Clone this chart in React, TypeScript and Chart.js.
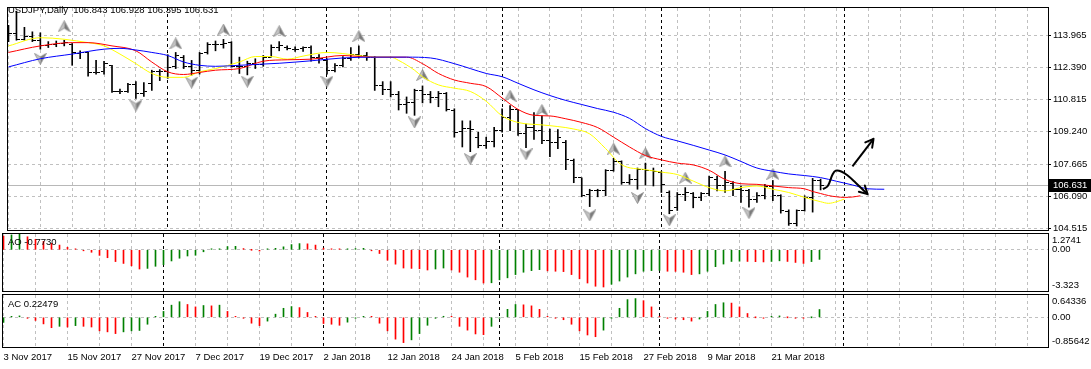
import React, { useEffect, useRef } from "react";
import { Chart, registerables } from "chart.js";

Chart.register(...registerables);

const W = 1091;
const H = 369;
const FONT = "'Liberation Sans', Arial, sans-serif";
const FS = 9.5;

// ---------------- data ----------------
const TITLE = "USDJPY,Daily  106.843 106.928 106.395 106.631";
const AO_LABEL = "AO -0.7730";
const AC_LABEL = "AC 0.22479";

const DATE_LABELS = [
  "3 Nov 2017", "15 Nov 2017", "27 Nov 2017", "7 Dec 2017", "19 Dec 2017",
  "2 Jan 2018", "12 Jan 2018", "24 Jan 2018", "5 Feb 2018", "15 Feb 2018",
  "27 Feb 2018", "9 Mar 2018", "21 Mar 2018",
];
const SEPARATORS = [20, 40, 62, 82, 105];

const OPEN = [
  114.20, 114.04, 113.76, 113.93, 113.73, 113.45, 113.53, 113.57, 113.53, 113.09,
  113.13, 112.13, 112.18, 112.50, 111.22, 111.22, 111.54, 111.14, 111.59, 112.18,
  112.18, 112.42, 112.90, 112.45, 112.26, 113.13, 113.50, 113.53, 113.61, 112.45,
  112.42, 112.58, 112.54, 112.90, 113.37, 113.37, 113.29, 113.34, 113.37, 112.86,
  112.74, 112.26, 112.50, 112.82, 113.05, 112.98, 112.86, 111.49, 111.30, 111.06,
  110.58, 110.66, 111.27, 111.06, 110.90, 111.14, 110.31, 109.25, 109.41, 108.98,
  108.55, 108.78, 109.30, 109.94, 110.34, 109.14, 109.46, 109.30, 108.82, 108.74,
  108.71, 107.82, 106.99, 106.16, 106.35, 106.38, 107.34, 107.79, 106.75, 106.91,
  107.39, 107.34, 107.27, 106.27, 105.52, 106.16, 106.22, 106.03, 106.22, 106.91,
  106.59, 106.70, 106.43, 106.35, 105.95, 106.11, 106.54, 106.11, 105.36, 104.75,
  105.39, 106.03, 106.843,
];
const HIGH = [
  114.46, 115.15, 114.36, 114.14, 114.09, 113.66, 113.69, 113.73, 113.57, 113.21,
  113.13, 112.74, 112.70, 112.50, 111.33, 111.62, 111.70, 111.65, 112.26, 112.29,
  113.02, 113.13, 112.98, 112.74, 113.13, 113.61, 113.69, 113.77, 113.66, 112.90,
  112.70, 112.82, 112.98, 113.50, 113.66, 113.45, 113.41, 113.41, 113.45, 113.02,
  112.82, 112.58, 112.93, 113.37, 113.45, 113.13, 112.93, 111.70, 111.70, 111.22,
  110.95, 111.33, 111.49, 111.22, 111.22, 111.17, 110.37, 109.78, 109.78, 109.22,
  108.98, 109.46, 110.37, 110.53, 110.34, 109.62, 110.18, 110.02, 109.38, 109.35,
  108.82, 107.91, 106.99, 106.43, 106.43, 107.39, 107.95, 107.82, 107.15, 107.47,
  107.71, 107.47, 107.31, 106.35, 106.27, 106.51, 106.27, 106.27, 107.07, 107.07,
  107.31, 106.80, 106.59, 106.43, 106.27, 106.67, 106.86, 106.16, 105.42, 105.42,
  106.11, 106.96, 106.928,
];
const LOW = [
  113.66, 113.73, 113.73, 113.66, 113.29, 113.37, 113.41, 113.45, 112.50, 112.82,
  111.97, 112.07, 112.07, 111.17, 111.11, 111.17, 110.88, 110.98, 111.27, 111.75,
  111.86, 112.34, 112.34, 112.02, 112.07, 113.05, 113.21, 113.34, 112.42, 112.10,
  112.03, 112.34, 112.45, 112.90, 113.21, 113.25, 113.18, 113.18, 112.70, 112.61,
  112.07, 112.18, 112.42, 112.74, 112.86, 112.74, 111.27, 111.06, 110.95, 110.31,
  110.15, 110.05, 110.66, 110.66, 110.47, 110.26, 108.98, 108.50, 108.27, 108.46,
  108.43, 108.50, 109.22, 109.30, 109.06, 108.46, 108.87, 108.66, 108.03, 108.42,
  107.39, 106.75, 106.06, 105.58, 106.06, 106.11, 107.31, 106.67, 106.67, 106.43,
  106.64, 106.59, 106.27, 105.23, 105.39, 105.87, 105.52, 105.87, 106.11, 106.35,
  106.27, 106.11, 105.79, 105.55, 105.79, 105.95, 105.87, 105.26, 104.66, 104.63,
  105.36, 105.31, 106.395,
];
const CLOSE = [
  114.04, 113.76, 113.93, 113.73, 113.45, 113.53, 113.57, 113.61, 113.13, 113.13,
  112.13, 112.13, 112.58, 111.22, 111.22, 111.54, 111.14, 111.22, 112.18, 112.18,
  112.38, 112.98, 112.45, 112.26, 113.09, 113.53, 113.53, 113.57, 112.45, 112.42,
  112.58, 112.54, 112.90, 113.37, 113.45, 113.34, 113.29, 113.37, 112.86, 112.82,
  112.26, 112.50, 112.82, 113.05, 112.98, 112.90, 111.49, 111.30, 111.06, 110.58,
  110.66, 111.27, 111.06, 110.90, 111.14, 110.34, 109.22, 109.41, 109.38, 108.55,
  108.78, 109.30, 109.94, 110.34, 109.14, 109.46, 109.30, 108.82, 108.74, 108.98,
  107.87, 106.99, 106.11, 106.35, 106.38, 107.34, 107.79, 106.75, 106.91, 107.39,
  107.34, 107.31, 106.67, 105.39, 106.16, 106.27, 106.03, 106.22, 106.99, 106.59,
  106.75, 106.43, 106.35, 105.95, 106.11, 106.54, 106.11, 105.39, 104.75, 105.39,
  106.03, 106.86, 106.631,
];

const AO = [
  1.10, 1.20, 1.2741, 1.05, 0.85, 0.68, 0.52, 0.38, 0.20, 0.05,
  -0.03, -0.20, -0.45, -0.64, -0.95, -1.10, -1.29, -1.55, -1.50, -1.33,
  -1.20, -0.90, -0.68, -0.50, -0.44, -0.16, 0.05, 0.07, 0.26, 0.28,
  0.10, 0.00, -0.10, 0.05, 0.12, 0.24, 0.42, 0.50, 0.48, 0.38,
  0.13, 0.08, 0.02, 0.06, 0.10, 0.12, -0.05, -0.30, -0.84, -1.16,
  -1.47, -1.50, -1.53, -1.63, -1.55, -1.47, -1.63, -1.81, -2.20, -2.42,
  -2.68, -2.66, -2.42, -2.26, -2.00, -1.81, -1.68, -1.60, -1.70, -1.73,
  -1.76, -2.00, -2.34, -2.68, -2.94, -3.00, -2.78, -2.52, -2.20, -1.94,
  -1.73, -1.68, -1.66, -1.73, -1.74, -1.81, -2.00, -1.94, -1.73, -1.36,
  -1.15, -0.94, -0.92, -0.94, -0.96, -0.98, -0.94, -0.89, -0.94, -1.02,
  -1.10, -0.95, -0.773,
];
const AC = [
  -0.15, 0.02, 0.04, -0.03, -0.09, -0.19, -0.30, -0.26, -0.28, -0.24,
  -0.26, -0.28, -0.39, -0.42, -0.47, -0.42, -0.39, -0.38, -0.20, 0.02,
  0.17, 0.35, 0.45, 0.37, 0.30, 0.34, 0.33, 0.35, 0.17, 0.01,
  -0.01, -0.17, -0.24, -0.11, 0.09, 0.26, 0.31, 0.28, 0.14, 0.02,
  -0.18, -0.20, -0.23, -0.14, -0.02, 0.02, 0.01, -0.17, -0.39, -0.63,
  -0.73, -0.65, -0.47, -0.23, -0.03, 0.03, 0.01, -0.26, -0.37, -0.48,
  -0.50, -0.26, -0.02, 0.23, 0.37, 0.36, 0.33, 0.23, 0.02, -0.01,
  -0.07, -0.20, -0.39, -0.51, -0.56, -0.37, -0.02, 0.26, 0.51, 0.54,
  0.48, 0.30, 0.02, -0.01, -0.05, -0.07, -0.11, -0.05, 0.17, 0.37,
  0.42, 0.41, 0.30, 0.11, 0.00, -0.01, 0.01, 0.04, 0.00, -0.02,
  -0.03, 0.00, 0.22479,
];
const AO_FIRST_UP = false;
const AC_FIRST_UP = true;

// Alligator lines (bar index, price)
const JAW_X = [0, 4, 8, 12, 14, 16, 18, 20, 22, 24, 26, 29, 31, 34, 38, 42, 46, 50, 53, 56, 58, 60, 62, 64, 66, 68, 70, 72, 74, 76, 78, 80, 82, 84, 86, 88, 90, 92, 94, 96, 98, 100, 102, 104, 106, 108, 110];
const JAW_Y = [112.42, 112.82, 113.05, 113.29, 113.33, 113.25, 113.13, 112.98, 112.66, 112.50, 112.45, 112.50, 112.54, 112.60, 112.72, 112.86, 112.90, 112.90, 112.86, 112.58, 112.34, 112.10, 111.94, 111.62, 111.30, 111.02, 110.78, 110.58, 110.38, 110.20, 109.90, 109.40, 109.02, 108.80, 108.58, 108.35, 108.11, 107.79, 107.47, 107.31, 107.18, 107.10, 107.00, 106.82, 106.64, 106.45, 106.43];
const TEETH_X = [0, 4, 8, 10, 13, 16, 18, 20, 22, 24, 26, 29, 32, 35, 38, 42, 44, 46, 50, 52, 54, 56, 58, 60, 62, 64, 66, 68, 70, 72, 74, 76, 78, 80, 82, 84, 86, 88, 90, 92, 94, 96, 98, 100, 101, 102, 103, 104, 105, 106, 107];
const TEETH_Y = [113.13, 113.45, 113.61, 113.61, 113.45, 113.21, 112.66, 112.18, 112.05, 112.15, 112.26, 112.34, 112.70, 112.77, 112.80, 112.98, 112.93, 112.90, 112.90, 112.58, 112.10, 111.78, 111.62, 111.46, 110.90, 110.34, 110.05, 110.02, 109.88, 109.70, 109.45, 108.98, 108.50, 108.08, 107.87, 107.71, 107.62, 107.36, 106.91, 106.70, 106.67, 106.59, 106.51, 106.45, 106.32, 106.22, 106.12, 106.06, 106.03, 106.05, 106.11];
const LIPS_X = [0, 4, 10, 12, 14, 16, 18, 20, 22, 24, 26, 29, 31, 33, 35, 37, 40, 44, 46, 48, 49, 51, 52, 54, 56, 58, 60, 62, 64, 67, 69, 71, 73, 75, 77, 80, 82, 84, 86, 88, 90, 92, 94, 96, 98, 100, 102, 103, 104, 105];
const LIPS_Y = [113.45, 113.85, 113.61, 113.45, 113.05, 112.58, 112.10, 111.91, 111.91, 112.18, 112.34, 112.66, 112.93, 112.93, 112.80, 112.95, 113.13, 112.98, 112.90, 112.90, 112.74, 112.26, 111.94, 111.54, 111.38, 111.22, 110.74, 110.02, 109.70, 109.58, 109.50, 109.38, 109.14, 108.42, 107.63, 107.39, 107.27, 107.15, 106.83, 106.51, 106.35, 106.51, 106.59, 106.43, 106.27, 106.03, 105.82, 105.74, 105.82, 105.95];

// Fractal arrows
const UP_FR_X = [7, 21, 27, 34, 44, 52, 63, 67, 76, 80, 85, 90, 96];
const UP_FR_Y = [114.41, 113.57, 114.25, 114.17, 113.93, 112.02, 111.01, 110.31, 108.42, 108.19, 106.99, 107.79, 107.18];
const DN_FR_X = [4, 16, 23, 30, 40, 51, 58, 65, 73, 79, 83, 93, 99];
const DN_FR_Y = [112.82, 110.53, 111.65, 111.70, 111.70, 109.70, 107.91, 108.14, 105.15, 106.00, 104.91, 105.26, 104.15];

// Hand-drawn arrows
const CURVE_X = [102.3, 102.9, 103.5, 103.9, 104.6, 105.4, 106.4, 107.9];
const CURVE_Y = [106.43, 106.59, 107.15, 107.34, 107.30, 107.10, 106.75, 106.19];
const STRAIGHT_X = [106.0, 108.65];
const STRAIGHT_Y = [107.55, 108.90];

// Axes
const PRICE_TICKS = [104.515, 106.09, 107.665, 109.24, 110.815, 112.39, 113.965];
const PRICE_RANGE = [104.434, 115.306];
const X_RANGE = [-0.0625, 130.5625];
const AO_RANGE = [-3.323, 1.2741];
const AO_TICK_AT = [0.73, 0, -2.9];
const AO_TICK_TEXT = ["1.2741", "0.00", "-3.323"];
const AC_RANGE = [-0.85642, 0.64336];
const AC_TICK_AT = [0.45, 0, -0.7];
const AC_TICK_TEXT = ["0.64336", "0.00", "-0.85642"];

const GRID = "#c0c0c0";
const GREEN = "#008000";
const RED = "#ff0000";

// ---------------- helpers ----------------
const pts = (xs: number[], ys: number[]) => xs.map((x, i) => ({ x, y: ys[i] }));

const X_TICKS = (() => {
  const s = new Set<number>();
  for (let v = 0; v <= 128; v += 4) s.add(v);
  SEPARATORS.forEach((v) => s.add(v));
  return Array.from(s).sort((a, b) => a - b);
})();

function xScale(showLabels: boolean) {
  return {
    type: "linear",
    min: X_RANGE[0],
    max: X_RANGE[1],
    offset: false,
    afterBuildTicks: (s: any) => {
      s.ticks = X_TICKS.map((v) => ({ value: v }));
    },
    afterFit: (s: any) => {
      s.height = showLabels ? 22 : 0;
      s.paddingLeft = 0;
      s.paddingRight = 0;
    },
    ticks: {
      display: showLabels,
      autoSkip: false,
      maxRotation: 0,
      minRotation: 0,
      align: "start",
      padding: 5,
      color: "#000",
      font: { family: FONT, size: FS },
      callback: (v: number) =>
        v % 8 === 0 && v / 8 < DATE_LABELS.length ? DATE_LABELS[v / 8] : "",
    },
    grid: {
      offset: false,
      color: (c: any) => (c.tick && SEPARATORS.includes(c.tick.value) ? "#000" : GRID),
      lineWidth: 1,
      drawTicks: false,
    },
    border: { display: false, dash: [3, 3] },
  };
}

function subY(range: number[], at: number[], text: string[]) {
  return {
    type: "linear",
    position: "right",
    min: range[0],
    max: range[1],
    afterBuildTicks: (s: any) => {
      s.ticks = at.map((v) => ({ value: v }));
    },
    afterFit: (s: any) => {
      s.width = 43;
      s.paddingTop = 0;
      s.paddingBottom = 0;
    },
    ticks: {
      autoSkip: false,
      padding: 4,
      color: "#000",
      font: { family: FONT, size: FS },
      callback: (_v: number, i: number) => text[i],
    },
    grid: {
      color: (c: any) => (c.tick && c.tick.value === 0 ? GRID : "rgba(0,0,0,0)"),
      drawTicks: false,
    },
    border: { display: false, dash: [3, 3] },
  };
}

const histColors = (v: number[], firstUp: boolean) =>
  v.map((x, i) => ((i === 0 ? firstUp : x > v[i - 1]) ? GREEN : RED));

const framePlugin = {
  id: "frame",
  afterDraw(chart: any) {
    const { ctx, chartArea: a } = chart;
    ctx.save();
    ctx.strokeStyle = "#000";
    ctx.lineWidth = 1;
    ctx.strokeRect(a.left - 0.5, a.top - 0.5, a.right - a.left + 1, a.bottom - a.top + 1);
    ctx.restore();
  },
};

const LAST = CLOSE[CLOSE.length - 1];

const pricePlugin = {
  id: "priceLine",
  beforeDatasetsDraw(chart: any) {
    const { ctx, chartArea: a } = chart;
    const y = Math.round(chart.scales.y.getPixelForValue(LAST)) + 0.5;
    ctx.save();
    ctx.strokeStyle = "#b8b8b8";
    ctx.lineWidth = 1;
    ctx.beginPath();
    ctx.moveTo(a.left, y);
    ctx.lineTo(a.right, y);
    ctx.stroke();
    ctx.restore();
  },
  afterDraw(chart: any) {
    const { ctx, chartArea: a } = chart;
    const y = Math.round(chart.scales.y.getPixelForValue(LAST));
    ctx.save();
    ctx.fillStyle = "#000";
    ctx.fillRect(a.right + 1, y - 6, W - a.right - 1, 13);
    ctx.fillStyle = "#fff";
    ctx.font = `${FS}px ${FONT}`;
    ctx.textBaseline = "middle";
    ctx.textAlign = "left";
    ctx.fillText(LAST.toFixed(3), a.right + 5, y + 0.5);
    ctx.restore();
  },
};

const arrowPlugin = {
  id: "arrowHeads",
  afterDatasetsDraw(chart: any) {
    const ctx = chart.ctx;
    chart.data.datasets.forEach((ds: any, i: number) => {
      if (!ds.arrowHead) return;
      const el = chart.getDatasetMeta(i).data;
      const b = el[el.length - 1];
      const a = el[el.length - 2];
      let fx = a.x, fy = a.y;
      if (b.cp1x !== undefined && (Math.abs(b.cp1x - b.x) > 0.5 || Math.abs(b.cp1y - b.y) > 0.5)) {
        fx = b.cp1x;
        fy = b.cp1y;
      }
      const ang = Math.atan2(b.y - fy, b.x - fx);
      ctx.save();
      ctx.strokeStyle = "#000";
      ctx.lineWidth = 2;
      ctx.lineCap = "round";
      ctx.beginPath();
      for (const s of [-1, 1]) {
        const t = ang + Math.PI + s * 0.5;
        ctx.moveTo(b.x, b.y);
        ctx.lineTo(b.x + 9 * Math.cos(t), b.y + 9 * Math.sin(t));
      }
      ctx.stroke();
      ctx.restore();
    });
  },
};

function makeImg(w: number, h: number, draw: (c: CanvasRenderingContext2D) => void) {
  const cv = document.createElement("canvas");
  cv.width = w;
  cv.height = h;
  const c = cv.getContext("2d") as CanvasRenderingContext2D;
  draw(c);
  return cv;
}

function arrowImg(up: boolean) {
  return makeImg(13, 12, (c) => {
    const tipY = up ? 0.5 : 11.5;
    const baseY = up ? 11.5 : 0.5;
    const notchY = up ? 8 : 4;
    c.fillStyle = "#c4c4c4";
    c.beginPath();
    c.moveTo(6.5, tipY);
    c.lineTo(6.5, notchY);
    c.lineTo(0.5, baseY);
    c.closePath();
    c.fill();
    c.fillStyle = "#7a7a7a";
    c.beginPath();
    c.moveTo(6.5, tipY);
    c.lineTo(12.5, baseY);
    c.lineTo(6.5, notchY);
    c.closePath();
    c.fill();
    c.strokeStyle = "#8c8c8c";
    c.lineWidth = 0.8;
    c.beginPath();
    c.moveTo(6.5, tipY);
    c.lineTo(12.5, baseY);
    c.lineTo(6.5, notchY);
    c.lineTo(0.5, baseY);
    c.closePath();
    c.stroke();
  });
}

const baseOptions = (padding: any) => ({
  responsive: false,
  animation: false,
  events: [],
  layout: { padding },
  plugins: { legend: { display: false }, tooltip: { enabled: false }, title: { display: false } },
});

export default function App() {
  const mainRef = useRef<HTMLCanvasElement>(null);
  const aoRef = useRef<HTMLCanvasElement>(null);
  const acRef = useRef<HTMLCanvasElement>(null);

  useEffect(() => {
    const openImg = makeImg(7, 1, (c) => {
      c.fillStyle = "#000";
      c.fillRect(0, 0, 3, 1);
    });
    const closeImg = makeImg(7, 1, (c) => {
      c.fillStyle = "#000";
      c.fillRect(4, 0, 3, 1);
    });
    const upImg = arrowImg(true);
    const dnImg = arrowImg(false);

    const idx = OPEN.map((_, i) => i);
    const charts: Chart[] = [];

    charts.push(
      new Chart(mainRef.current as HTMLCanvasElement, {
        type: "bar",
        data: {
          datasets: [
            { type: "line", data: pts(CURVE_X, CURVE_Y), borderColor: "#000", borderWidth: 2, pointRadius: 0, tension: 0.4, arrowHead: true, order: 0 } as any,
            { type: "line", data: pts(STRAIGHT_X, STRAIGHT_Y), borderColor: "#000", borderWidth: 2, pointRadius: 0, arrowHead: true, order: 0 } as any,
            { type: "line", data: pts(JAW_X, JAW_Y), borderColor: "#0000ff", borderWidth: 1, pointRadius: 0, cubicInterpolationMode: "monotone", order: 1 } as any,
            { type: "line", data: pts(TEETH_X, TEETH_Y), borderColor: "#ff0000", borderWidth: 1, pointRadius: 0, cubicInterpolationMode: "monotone", order: 1 } as any,
            { type: "line", data: pts(LIPS_X, LIPS_Y), borderColor: "#ffff00", borderWidth: 1, pointRadius: 0, cubicInterpolationMode: "monotone", order: 1 } as any,
            { type: "line", data: pts(UP_FR_X, UP_FR_Y), showLine: false, pointStyle: upImg, pointRadius: 7, clip: 0, order: 2 } as any,
            { type: "line", data: pts(DN_FR_X, DN_FR_Y), showLine: false, pointStyle: dnImg, pointRadius: 7, clip: 0, order: 2 } as any,
            { type: "line", data: idx.map((i) => ({ x: i, y: OPEN[i] })), showLine: false, pointStyle: openImg, pointRadius: 3, order: 4 } as any,
            { type: "line", data: idx.map((i) => ({ x: i, y: CLOSE[i] })), showLine: false, pointStyle: closeImg, pointRadius: 3, order: 4 } as any,
            { type: "bar", data: idx.map((i) => ({ x: i, y: [LOW[i], HIGH[i]] })), backgroundColor: "#000", borderWidth: 0, barThickness: 1, order: 5 } as any,
          ],
        },
        options: {
          ...baseOptions({ left: 3, top: 3, right: 0, bottom: H - 230 }),
          scales: {
            x: xScale(false),
            y: {
              type: "linear",
              position: "right",
              min: PRICE_RANGE[0],
              max: PRICE_RANGE[1],
              afterBuildTicks: (s: any) => {
                s.ticks = PRICE_TICKS.map((v) => ({ value: v }));
              },
              afterFit: (s: any) => {
                s.width = 43;
                s.paddingTop = 0;
                s.paddingBottom = 0;
              },
              ticks: {
                autoSkip: false,
                padding: 2,
                color: "#000",
                font: { family: FONT, size: FS },
                callback: (v: number) => Number(v).toFixed(3),
              },
              grid: { color: GRID, lineWidth: 1, drawTicks: true, tickLength: 3, tickColor: "#000", tickBorderDash: [] },
              border: { display: false, dash: [3, 3] },
            },
          },
        } as any,
        plugins: [pricePlugin, arrowPlugin, framePlugin],
      })
    );

    charts.push(
      new Chart(aoRef.current as HTMLCanvasElement, {
        type: "bar",
        data: {
          datasets: [
            {
              data: idx.map((i) => ({ x: i, y: AO[i] })),
              backgroundColor: histColors(AO, AO_FIRST_UP),
              borderWidth: 0,
              barThickness: 1,
              minBarLength: 1,
            } as any,
          ],
        },
        options: {
          ...baseOptions({ left: 3, top: 234, right: 0, bottom: H - 291 }),
          scales: { x: xScale(false), y: subY(AO_RANGE, AO_TICK_AT, AO_TICK_TEXT) },
        } as any,
        plugins: [framePlugin],
      })
    );

    charts.push(
      new Chart(acRef.current as HTMLCanvasElement, {
        type: "bar",
        data: {
          datasets: [
            {
              data: idx.map((i) => ({ x: i, y: AC[i] })),
              backgroundColor: histColors(AC, AC_FIRST_UP),
              borderWidth: 0,
              barThickness: 1,
              minBarLength: 1,
            } as any,
          ],
        },
        options: {
          ...baseOptions({ left: 3, top: 295, right: 0, bottom: 0 }),
          scales: { x: xScale(true), y: subY(AC_RANGE, AC_TICK_AT, AC_TICK_TEXT) },
        } as any,
        plugins: [framePlugin],
      })
    );

    return () => charts.forEach((c) => c.destroy());
  }, []);

  const canvasStyle: React.CSSProperties = { position: "absolute", left: 0, top: 0 };
  const textStyle = (top: number): React.CSSProperties => ({
    position: "absolute",
    left: 8,
    top,
    font: `${FS}px ${FONT}`,
    lineHeight: "12px",
    color: "#000",
    whiteSpace: "pre",
  });

  return (
    <div style={{ position: "absolute", left: 0, top: 0, width: W, height: H, background: "#fff", overflow: "hidden" }}>
      <canvas ref={mainRef} width={W} height={H} style={canvasStyle} />
      <canvas ref={aoRef} width={W} height={H} style={canvasStyle} />
      <canvas ref={acRef} width={W} height={H} style={canvasStyle} />
      <div style={textStyle(4)}>{TITLE}</div>
      <div style={textStyle(236)}>{AO_LABEL}</div>
      <div style={textStyle(298)}>{AC_LABEL}</div>
    </div>
  );
}
